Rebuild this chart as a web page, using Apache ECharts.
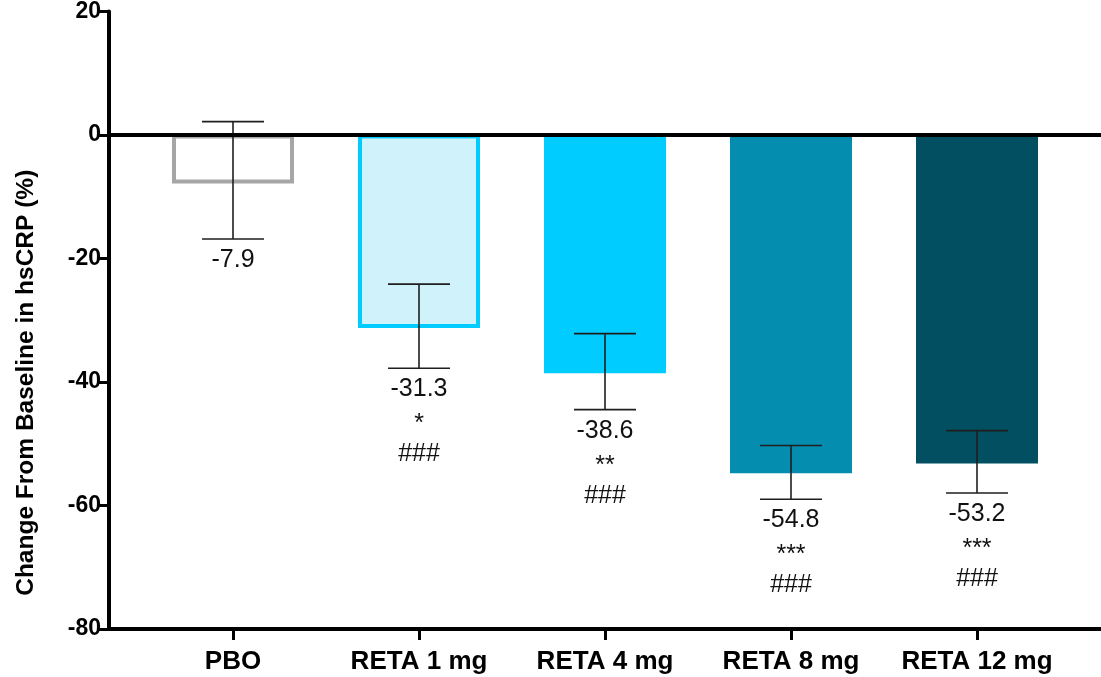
<!DOCTYPE html>
<html>
<head>
<meta charset="utf-8">
<script src="https://cdn.jsdelivr.net/npm/echarts@6/dist/echarts.min.js"></script>
<style>
  html, body { margin: 0; padding: 0; background: #fff; }
  #chart { width: 1101px; height: 677px; }
</style>
</head>
<body>
<div id="chart"></div>
<script>
// ---- data ----
const categories = ['PBO', 'RETA 1 mg', 'RETA 4 mg', 'RETA 8 mg', 'RETA 12 mg'];
const means = [-7.9, -31.3, -38.6, -54.8, -53.2];
const errUpper = [2.1, -24.2, -32.2, -50.3, -47.9];
const errLower = [-16.9, -37.8, -44.5, -59.0, -58.0];
const meanLabels = ['-7.9', '-31.3', '-38.6', '-54.8', '-53.2'];
const starLabels = ['', '*', '**', '***', '***'];
const hashLabels = ['', '###', '###', '###', '###'];
const yMin = -80, yMax = 20, yInterval = 20;
const yAxisTitle = 'Change From Baseline in hsCRP (%)';

// ---- styles ----
const FONT = "'Liberation Sans', Arial, Helvetica, sans-serif";
const barStyles = [
  { color: '#ffffff', borderColor: '#a6a6a6', borderWidth: 4 },
  { color: '#d0f2fa', borderColor: '#00ccff', borderWidth: 4 },
  { color: '#00ccff', borderWidth: 0 },
  { color: '#058db0', borderWidth: 0 },
  { color: '#024f61', borderWidth: 0 }
];

const chart = echarts.init(document.getElementById('chart'), null, { renderer: 'canvas' });

const gridTop = 11, gridBottom = 48;

const option = {
  animation: false,
  backgroundColor: '#ffffff',
  grid: [
    { left: 109, right: 0, top: gridTop, bottom: gridBottom, containLabel: false },
    { left: 140, right: 31, top: gridTop, bottom: gridBottom, containLabel: false }
  ],
  xAxis: [
    { // zero line across the full frame
      gridIndex: 0, type: 'value', min: 0, max: 1, z: 10,
      axisLine: { show: true, onZero: true, lineStyle: { color: '#000', width: 4 } },
      axisTick: { show: false }, axisLabel: { show: false }, splitLine: { show: false }
    },
    { // bottom frame line
      gridIndex: 0, type: 'value', min: 0, max: 1, position: 'bottom', z: 10,
      axisLine: { show: true, onZero: false, lineStyle: { color: '#000', width: 4 } },
      axisTick: { show: false }, axisLabel: { show: false }, splitLine: { show: false }
    },
    { // category axis for bars
      gridIndex: 1, type: 'category', data: categories, position: 'bottom',
      axisLine: { show: false, onZero: false },
      axisTick: { show: true, alignWithLabel: true, interval: 0, length: 11, lineStyle: { color: '#000', width: 3 } },
      axisLabel: { interval: 0, color: '#000', fontFamily: FONT, fontWeight: 'bold', fontSize: 26, margin: 20 },
      splitLine: { show: false }
    }
  ],
  yAxis: [
    {
      gridIndex: 0, type: 'value', min: yMin, max: yMax, interval: yInterval, z: 10,
      name: yAxisTitle, nameLocation: 'middle', nameGap: 70,
      nameTextStyle: { color: '#000', fontFamily: FONT, fontWeight: 'bold', fontSize: 24.5, padding: [0, 125, 0, 0] },
      axisLine: { show: true, onZero: false, lineStyle: { color: '#000', width: 4 } },
      axisTick: { show: true, length: 11, lineStyle: { color: '#000', width: 3 } },
      axisLabel: { color: '#000', fontFamily: FONT, fontWeight: 'bold', fontSize: 23, margin: 8 },
      splitLine: { show: false }
    },
    {
      gridIndex: 1, type: 'value', min: yMin, max: yMax, interval: yInterval, show: false,
      splitLine: { show: false }
    }
  ],
  series: [
    {
      type: 'bar', xAxisIndex: 2, yAxisIndex: 1, barWidth: 122, z: 2,
      data: means.map((v, i) => ({ value: v, itemStyle: barStyles[i] })),
      silent: true
    },
    {
      type: 'custom', xAxisIndex: 2, yAxisIndex: 1, z: 5, silent: true,
      data: categories.map((c, i) => [i, errUpper[i], errLower[i]]),
      renderItem: function (params, api) {
        const i = params.dataIndex;
        const hi = api.coord([api.value(0), api.value(1)]);
        const lo = api.coord([api.value(0), api.value(2)]);
        const cap = 31;
        const stroke = { stroke: '#1e1e1e', lineWidth: 1.6 };
        const txt = (t, y) => ({
          type: 'text', x: lo[0], y: y,
          style: { text: t, fill: '#111', font: '25px ' + FONT, align: 'center', verticalAlign: 'middle' }
        });
        return {
          type: 'group',
          children: [
            { type: 'line', shape: { x1: hi[0], y1: hi[1], x2: lo[0], y2: lo[1] }, style: stroke },
            { type: 'line', shape: { x1: hi[0] - cap, y1: hi[1], x2: hi[0] + cap, y2: hi[1] }, style: stroke },
            { type: 'line', shape: { x1: lo[0] - cap, y1: lo[1], x2: lo[0] + cap, y2: lo[1] }, style: stroke },
            txt(meanLabels[i], lo[1] + 21),
            txt(starLabels[i], lo[1] + 56),
            txt(hashLabels[i], lo[1] + 86)
          ]
        };
      }
    }
  ]
};

chart.setOption(option);
</script>
</body>
</html>
